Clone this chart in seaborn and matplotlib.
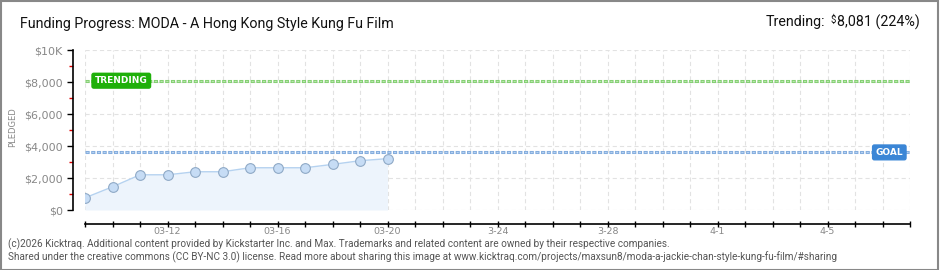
import matplotlib
matplotlib.use("Agg")
import matplotlib.pyplot as plt
import seaborn as sns
import pandas as pd
import numpy as np
from matplotlib.patches import Rectangle

# ---- data ----
days = [0, 1, 2, 3, 4, 5, 6, 7, 8, 9, 10, 11]          # days since 03-09
pledged = [760, 1450, 2200, 2200, 2390, 2390, 2640, 2640, 2640, 2850, 3080, 3210]
goal = 3600
trending = 8081
trending_pct = 224
x_tick_days = [3, 7, 11, 15, 19, 23, 27]
x_tick_labels = ["03-12", "03-16", "03-20", "3-24", "3-28", "4-1", "4-5"]
y_ticks = [0, 2000, 4000, 6000, 8000, 10000]
y_tick_labels = ["$0", "$2,000", "$4,000", "$6,000", "$8,000", "$10K"]
n_days = 30
title = "Funding Progress: MODA - A Hong Kong Style Kung Fu Film"
footer1 = ("(c)2026 Kicktraq. Additional content provided by Kickstarter Inc. and Max. "
           "Trademarks and related content are owned by their respective companies.")
footer2 = ("Shared under the creative commons (CC BY-NC 3.0) license. Read more about sharing this "
           "image at www.kicktraq.com/projects/maxsun8/moda-a-jackie-chan-style-kung-fu-film/#sharing")

df = pd.DataFrame({"day": days, "pledged": pledged})

sns.set_theme(style="white")
plt.rcParams["font.family"] = ["DejaVu Sans"]
plt.rcParams["lines.scale_dashes"] = False

W, H = 940, 270
fig = plt.figure(figsize=(W / 100, H / 100), dpi=100)
ax = fig.add_axes([85 / W, (H - 210) / H, (910 - 85) / W, 160 / H])

# grid
for yv in y_ticks:
    ax.axhline(yv, color="#e2e2e2", lw=0.8, linestyle=(0, (3, 2.2)), zorder=0)
for d in range(0, n_days + 1):
    ax.axvline(d, color="#e2e2e2", lw=0.8, linestyle=(0, (3, 2.2)), zorder=0)

# fill + line
ax.fill_between(df["day"], df["pledged"], 0, color="#edf4fc", zorder=1, lw=0)
sns.lineplot(data=df, x="day", y="pledged", ax=ax, color="#b5d2f0", lw=1,
             marker="o", markersize=7, markerfacecolor="#c6dcf5",
             markeredgecolor="#8fa9c6", markeredgewidth=0.8, zorder=3)

# trending & goal lines (squares with lighter centres)
outer_ls = (0, (3.0, 1.1))
inner_ls = (3.35, (1.5, 2.6))
ax.axhline(trending, color="#84cf72", lw=2.2, linestyle=outer_ls, zorder=2)
ax.axhline(trending, color="#b9e8ad", lw=0.8, linestyle=inner_ls, zorder=2)
ax.axhline(goal, color="#84addd", lw=2.2, linestyle=outer_ls, zorder=2)
ax.axhline(goal, color="#b5d1f2", lw=0.8, linestyle=inner_ls, zorder=2)

ax.text(0.36, trending, "TRENDING", color="white", fontsize=6.5, fontweight="bold",
        ha="left", va="center", zorder=5,
        bbox=dict(boxstyle="round,pad=0.32,rounding_size=0.2", fc="#1fb00a", ec="#1fb00a"))
ax.text(29.75, goal, "GOAL", color="white", fontsize=6.5, fontweight="bold",
        ha="right", va="center", zorder=5,
        bbox=dict(boxstyle="round,pad=0.32,rounding_size=0.2", fc="#3b86d6", ec="#3b86d6"))

ax.set_xlim(0, n_days)
ax.set_ylim(0, 10000)
ax.set_xticks(range(0, n_days + 1), minor=True)
ax.set_xticks(x_tick_days)
ax.set_xticklabels(x_tick_labels)
ax.set_yticks(y_ticks)
ax.set_yticklabels(y_tick_labels)
ax.set_yticks([1000, 3000, 5000, 7000, 9000], minor=True)
ax.set_xlabel("")
ax.set_ylabel("PLEDGED", color="#888", fontsize=6)
ax.yaxis.set_label_coords((17 - 85) / 825, (210 - 127) / 160)

sns.despine(ax=ax, offset={"left": 9, "bottom": 10})
for s in ["left", "bottom"]:
    ax.spines[s].set_color("black")
    ax.spines[s].set_linewidth(1.2)

ax.tick_params(axis="x", which="both", direction="inout", length=5, width=1,
               color="black", labelsize=6.8, labelcolor="#888", pad=0, bottom=True)
ax.tick_params(axis="y", which="major", direction="out", length=4, width=1,
               color="black", labelsize=8, labelcolor="#888", pad=3, left=True)
ax.tick_params(axis="y", which="minor", direction="out", length=3, width=1,
               color="#e00000", left=True)

# title / trending text
fig.text(20 / W, 1 - 24 / H, title, fontsize=10.3, color="#111", ha="left", va="center",
         family=["Roboto", "DejaVu Sans"])
t = fig.text(920 / W, 1 - 22 / H, f"{trending:,} ({trending_pct}%)", fontsize=10.3,
             color="#111", ha="right", va="center", family=["Roboto", "DejaVu Sans"])
ts = fig.text(0, 0, "$", fontsize=7, color="#111", ha="right", va="top",
              family=["Roboto", "DejaVu Sans"])
fig.canvas.draw()
r = fig.canvas.get_renderer()
bb = t.get_window_extent(r)
ts.set_position(((bb.x0 - 1) / W, bb.y1 / H))
bbs = ts.get_window_extent(r)
fig.text((bbs.x0 - 6) / W, 1 - 22 / H, "Trending:", fontsize=10.3, color="#111",
         ha="right", va="center", family=["Roboto", "DejaVu Sans"])

# footer
fig.text(8 / W, 1 - 244 / H, footer1, fontsize=7.2, color="#555", ha="left", va="center",
         family=["Roboto", "DejaVu Sans"])
fig.text(8 / W, 1 - 257 / H, footer2, fontsize=7.2, color="#555", ha="left", va="center",
         family=["Roboto", "DejaVu Sans"])

# border
fig.patches.append(Rectangle((0.5 / W, 0.5 / H), (W - 3) / W, (H - 1.5) / H,
                             transform=fig.transFigure, fill=False, ec="#888", lw=1.5))

fig.savefig("out.png", dpi=100)
